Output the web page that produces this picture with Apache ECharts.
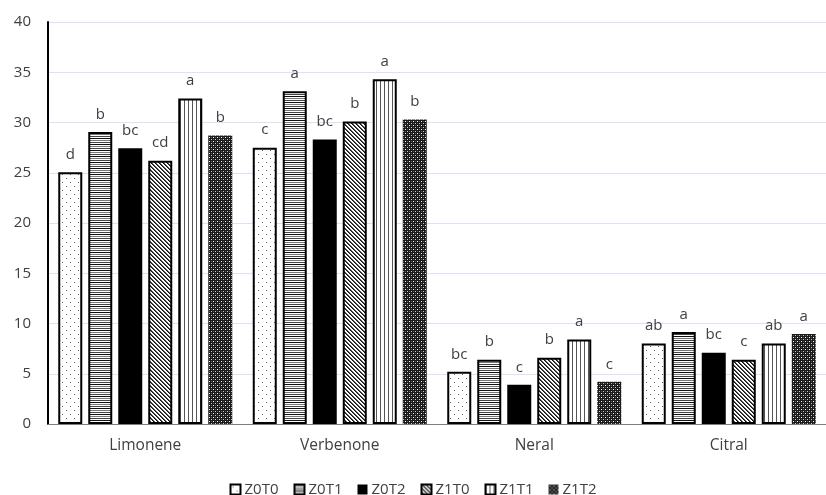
<!DOCTYPE html>
<html><head><meta charset="utf-8">
<script src="https://cdn.jsdelivr.net/npm/echarts@6/dist/echarts.min.js"></script>
<style>html,body{margin:0;padding:0;background:#fff}#c{width:826px;height:495px}</style>
</head><body><div id="c"></div>
<script>
const categories = ['Limonene', 'Verbenone', 'Neral', 'Citral'];
const seriesNames = ['Z0T0', 'Z0T1', 'Z0T2', 'Z1T0', 'Z1T1', 'Z1T2'];
const z0t0 = [25.05, 27.5, 5.2, 8.0];
const z0t1 = [29.05, 33.1, 6.4, 9.15];
const z0t2 = [27.45, 28.3, 3.9, 7.1];
const z1t0 = [26.2, 30.1, 6.6, 6.4];
const z1t1 = [32.4, 34.3, 8.4, 8.0];
const z1t2 = [28.7, 30.3, 4.2, 8.95];
const z0t0Letters = ['d', 'c', 'bc', 'ab'];
const z0t1Letters = ['b', 'a', 'b', 'a'];
const z0t2Letters = ['bc', 'bc', 'c', 'bc'];
const z1t0Letters = ['cd', 'b', 'b', 'c'];
const z1t1Letters = ['a', 'a', 'a', 'ab'];
const z1t2Letters = ['b', 'b', 'c', 'a'];
const yTicks = [0, 5, 10, 15, 20, 25, 30, 35, 40];

function mk(w, h, draw) {
  const c = document.createElement('canvas'); c.width = w; c.height = h;
  const x = c.getContext('2d'); draw(x); return c;
}
function px(x, col, a, b) { x.fillStyle = col; x.fillRect(a, b, 1, 1); }
const pDots = mk(8, 8, x => { x.fillStyle = '#fff'; x.fillRect(0,0,8,8); px(x,'#666',2,2); px(x,'#666',6,6); });
const pHoriz = mk(4, 6, x => { x.fillStyle = '#fff'; x.fillRect(0,0,4,6); x.fillStyle='#111'; x.fillRect(0,0,4,1); x.fillStyle='#777'; x.fillRect(0,2,4,1); x.fillStyle='#444'; x.fillRect(0,4,4,1); });
const pDiag = mk(4, 4, x => { x.fillStyle = '#fff'; x.fillRect(0,0,4,4); for (let y=0;y<4;y++){ px(x,'#111',y,y); px(x,'#555',(y+1)%4,y);} });
const pVert = mk(4, 1, x => { x.fillStyle = '#fff'; x.fillRect(0,0,4,1); px(x,'#555',0,0); });
const pDense = mk(4, 4, x => { x.fillStyle = '#1a1a1a'; x.fillRect(0,0,4,4); px(x,'#fff',1,1); px(x,'#ccc',3,3); px(x,'#555',1,3); px(x,'#555',3,1); });

const fills = [
  {image: pDots, repeat: 'repeat'},
  {image: pHoriz, repeat: 'repeat'},
  '#000',
  {image: pDiag, repeat: 'repeat'},
  {image: pVert, repeat: 'repeat'},
  {image: pDense, repeat: 'repeat'}
];
const borders = [2, 2, 0, 2, 2, 0];
const values = [z0t0, z0t1, z0t2, z1t0, z1t1, z1t2];
const letters = [z0t0Letters, z0t1Letters, z0t2Letters, z1t0Letters, z1t1Letters, z1t2Letters];

const FONT = '"Open Sans", "Noto Sans", sans-serif';
const chart = echarts.init(document.getElementById('c'));
chart.setOption({
  animation: false,
  backgroundColor: '#fff',
  grid: {left: 48, right: -12, top: 22, bottom: 71},
  legend: {
    top: 477, left: 'center', itemWidth: 10, itemHeight: 10, itemGap: 15,
    icon: 'rect',
    textStyle: {fontFamily: FONT, fontSize: 15, color: '#404040', padding: [0,0,0,-1]},
    data: seriesNames
  },
  xAxis: {
    type: 'category', data: categories,
    axisLine: {lineStyle: {color: '#7f7f7f', width: 1}},
    axisTick: {show: false},
    axisLabel: {fontFamily: FONT, fontSize: 15.5, color: '#404040', margin: 14}
  },
  yAxis: {
    type: 'value', min: 0, max: 40, interval: 5,
    axisLine: {show: true, lineStyle: {color: '#000', width: 2}},
    axisTick: {show: false},
    splitLine: {lineStyle: {color: '#dae3f3', width: 1}},
    axisLabel: {fontFamily: FONT, fontSize: 15, color: '#404040', margin: 17,
      formatter: v => yTicks.includes(v) ? String(v) : ''}
  },
  series: seriesNames.map((n, i) => ({
    name: n, type: 'bar', barWidth: 24, barGap: '25%',
    data: values[i],
    itemStyle: {color: fills[i], borderColor: '#000', borderWidth: borders[i]},
    label: {show: true, position: 'top', distance: 10, fontFamily: FONT, fontSize: 15, color: '#404040',
      formatter: p => letters[i][p.dataIndex]}
  }))
});
</script></body></html>
